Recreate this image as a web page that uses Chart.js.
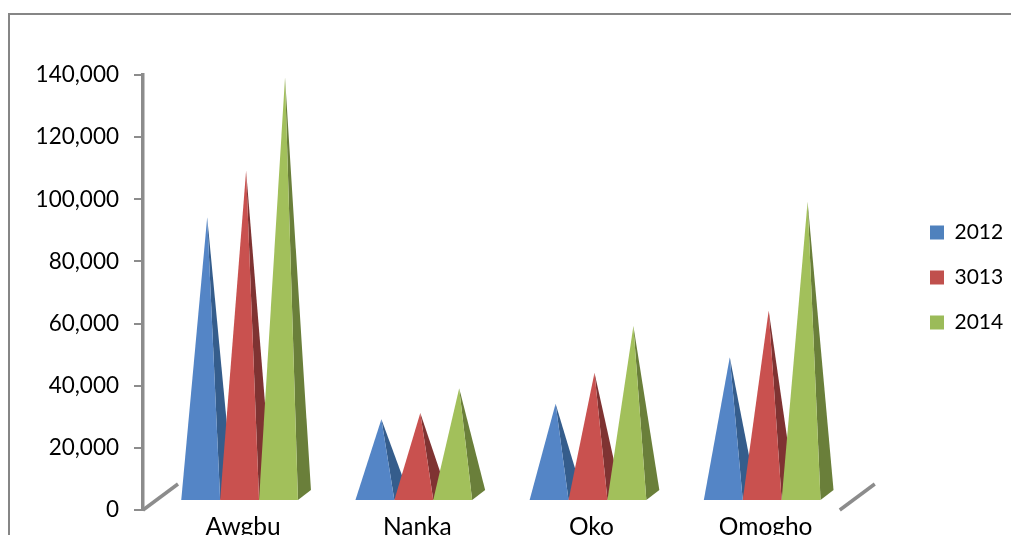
<!DOCTYPE html>
<html>
<head>
<meta charset="utf-8">
<title>Pyramid chart</title>
<script src="https://cdn.jsdelivr.net/npm/chart.js@4/dist/chart.umd.min.js"></script>
<style>
  html, body { margin: 0; padding: 0; background: #fff; overflow: hidden; }
  canvas { display: block; }
</style>
</head>
<body>
<canvas id="chart" width="1011" height="535"></canvas>
<script>
var categories = ['Awgbu', 'Nanka', 'Oko', 'Omogho'];
var seriesNames = ['2012', '3013', '2014'];
var values2012 = [95000, 30000, 35000, 50000];
var values3013 = [110000, 32000, 45000, 65000];
var values2014 = [140000, 40000, 60000, 100000];
var legendColors = ['#4f81bd', '#c0504d', '#9bbb59'];
var frontColors = ['#5485c6', '#c9514f', '#a2c05b'];
var sideColors = ['#355d8c', '#7f3332', '#6a7f3a'];

var AXIS_GREY = '#8c8c8c';
var FONT = 'Lato, "Open Sans", sans-serif';

// fake 3D: how far the floor runs back from the front edge of the plot
function drawFloorEdge(ctx, x, y) {
  ctx.beginPath();
  ctx.moveTo(x, y);
  ctx.lineTo(x + 35, y - 26);
  ctx.stroke();
}

function drawPyramid(ctx, bar, front, side) {
  var left = bar.x - bar.width / 2 + 9.5;
  var right = bar.x + bar.width / 2 + 9.5;
  var baseY = bar.base - 9;
  var tipX = bar.x + 9.5 + 6.5;
  var tipY = bar.y + 2.5;

  ctx.fillStyle = side;
  ctx.beginPath();
  ctx.moveTo(right, baseY);
  ctx.lineTo(right + 13, baseY - 10);
  ctx.lineTo(tipX, tipY);
  ctx.closePath();
  ctx.fill();

  ctx.fillStyle = front;
  ctx.beginPath();
  ctx.moveTo(left, baseY);
  ctx.lineTo(right, baseY);
  ctx.lineTo(tipX, tipY);
  ctx.closePath();
  ctx.fill();
}

var pyramidPlugin = {
  id: 'pyramids',
  afterLayout: function (chart) {
    // put the legend where the reference has it
    var legend = chart.legend;
    var h = legend.bottom - legend.top;
    legend.left = 930 - chart.options.plugins.legend.labels.padding;
    legend.right = chart.width;
    legend.top = 198;
    legend.bottom = 198 + h;
  },
  beforeDraw: function (chart) {
    var ctx = chart.ctx;
    ctx.save();
    ctx.fillStyle = '#fff';
    ctx.fillRect(0, 0, chart.width, chart.height);
    ctx.strokeStyle = '#868686';
    ctx.lineWidth = 2;
    ctx.strokeRect(9, 14, chart.width, chart.height);
    ctx.restore();
  },
  beforeDatasetsDraw: function (chart) {
    var ctx = chart.ctx;
    var area = chart.chartArea;
    ctx.save();
    ctx.strokeStyle = AXIS_GREY;
    ctx.lineWidth = 3.5;
    drawFloorEdge(ctx, area.left, area.bottom);
    drawFloorEdge(ctx, area.right, area.bottom);
    categories.forEach(function (c, i) {
      seriesNames.forEach(function (s, d) {
        var bar = chart.getDatasetMeta(d).data[i];
        drawPyramid(ctx, bar, frontColors[d], sideColors[d]);
      });
    });
    ctx.restore();
    return false;
  }
};

new Chart(document.getElementById('chart'), {
  type: 'bar',
  data: {
    labels: categories,
    datasets: [
      { label: seriesNames[0], data: values2012, backgroundColor: legendColors[0] },
      { label: seriesNames[1], data: values3013, backgroundColor: legendColors[1] },
      { label: seriesNames[2], data: values2014, backgroundColor: legendColors[2] }
    ]
  },
  options: {
    responsive: false,
    animation: false,
    events: [],
    layout: { padding: { top: 75, left: 0, right: 64, bottom: 0 } },
    categoryPercentage: 0.67,
    barPercentage: 1,
    plugins: {
      title: { display: false },
      tooltip: { enabled: false },
      legend: {
        position: 'right',
        align: 'start',
        labels: {
          color: '#000',
          boxWidth: 14,
          boxHeight: 14,
          padding: 24,
          font: { family: FONT, size: 21 }
        }
      }
    },
    scales: {
      x: {
        afterFit: function (scale) { scale.height = 25; },
        grid: { display: false },
        border: { display: false },
        ticks: { color: '#000', padding: -6, labelOffset: 13, maxRotation: 0, font: { family: FONT, size: 24.5 } }
      },
      y: {
        min: 0,
        max: 140000,
        afterFit: function (scale) {
          scale.width = 143;
          scale.paddingBottom = 0; // tick padding would otherwise lift the plot floor
        },
        grid: { drawOnChartArea: false, color: AXIS_GREY, lineWidth: 2, tickLength: 9 },
        border: { color: AXIS_GREY, width: 3.5 },
        ticks: {
          stepSize: 20000,
          color: '#000',
          padding: 15,
          font: { family: FONT, size: 22.5 },
          callback: function (v) { return v.toLocaleString('en-US'); }
        }
      }
    }
  },
  plugins: [pyramidPlugin]
});
</script>
</body>
</html>
